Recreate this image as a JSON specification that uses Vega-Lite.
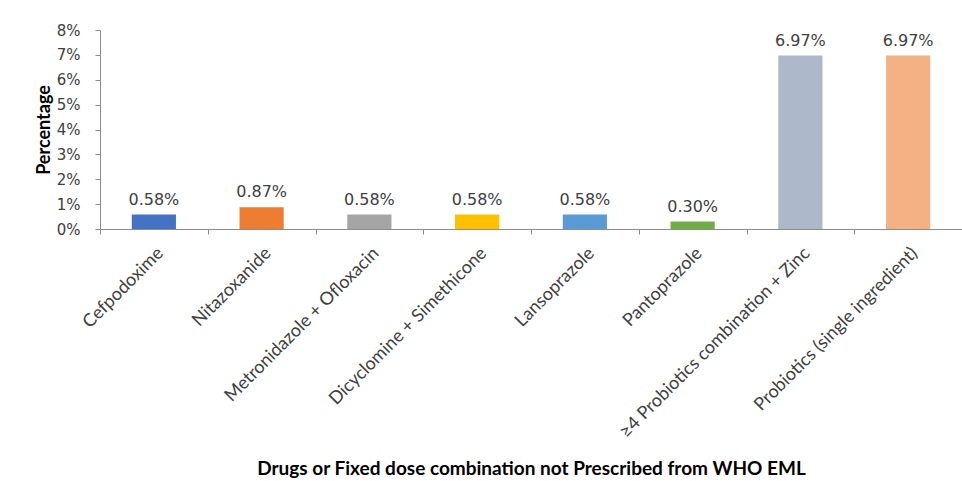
{
  "$schema": "https://vega.github.io/schema/vega-lite/v6.json",
  "autosize": "none",
  "width": 862,
  "height": 199,
  "padding": {"left": 100, "top": 30, "right": 0, "bottom": 252},
  "background": "white",
  "config": {"view": {"stroke": null}},
  "data": {
    "values": [
      {"drug": "Cefpodoxime", "pct": 0.0058, "color": "#4472C4"},
      {"drug": "Nitazoxanide", "pct": 0.0087, "color": "#ED7D31"},
      {"drug": "Metronidazole + Ofloxacin", "pct": 0.0058, "color": "#A5A5A5"},
      {"drug": "Dicyclomine + Simethicone", "pct": 0.0058, "color": "#FFC000"},
      {"drug": "Lansoprazole", "pct": 0.0058, "color": "#5B9BD5"},
      {"drug": "Pantoprazole", "pct": 0.003, "color": "#70AD47"},
      {"drug": "≥4 Probiotics combination + Zinc", "pct": 0.0697, "color": "#ADB9CA"},
      {"drug": "Probiotics (single ingredient)", "pct": 0.0697, "color": "#F4B183"}
    ]
  },
  "encoding": {
    "x": {
      "field": "drug",
      "type": "nominal",
      "sort": null,
      "scale": {"paddingInner": 0, "paddingOuter": 0},
      "axis": {
        "title": "Drugs or Fixed dose combination  not Prescribed from WHO EML",
        "titleFont": "Lato",
        "titleFontSize": 19,
        "titleFontWeight": "bold",
        "titleColor": "#000000",
        "titlePadding": 30,
        "labelAngle": -45,
        "labelFont": "Lato",
        "labelFontSize": 18,
        "labelColor": "#404040",
        "labelPadding": 10,
        "tickBand": "extent",
        "tickSize": 5,
        "tickColor": "#8C8C8C",
        "domainColor": "#8C8C8C",
        "labelLimit": 400
      }
    },
    "y": {
      "field": "pct",
      "type": "quantitative",
      "scale": {"domain": [0, 0.08], "nice": false},
      "axis": {
        "title": "Percentage",
        "titleFont": "Lato",
        "titleFontSize": 18,
        "titleFontWeight": "bold",
        "titleColor": "#000000",
        "titlePadding": 3,
        "values": [0, 0.01, 0.02, 0.03, 0.04, 0.05, 0.06, 0.07, 0.08],
        "format": ".0%",
        "labelFont": "DejaVu Sans",
        "labelFontSize": 15,
        "labelColor": "#404040",
        "labelPadding": 15,
        "tickSize": 5,
        "tickColor": "#8C8C8C",
        "domainColor": "#8C8C8C",
        "grid": false
      }
    }
  },
  "layer": [
    {
      "mark": {"type": "bar", "width": {"band": 0.41}},
      "encoding": {
        "color": {"field": "color", "type": "nominal", "scale": null}
      }
    },
    {
      "mark": {"type": "text", "baseline": "alphabetic", "dy": -10, "font": "DejaVu Sans", "fontSize": 16, "color": "#404040"},
      "encoding": {
        "text": {"field": "pct", "type": "quantitative", "format": ".2%"}
      }
    }
  ]
}
